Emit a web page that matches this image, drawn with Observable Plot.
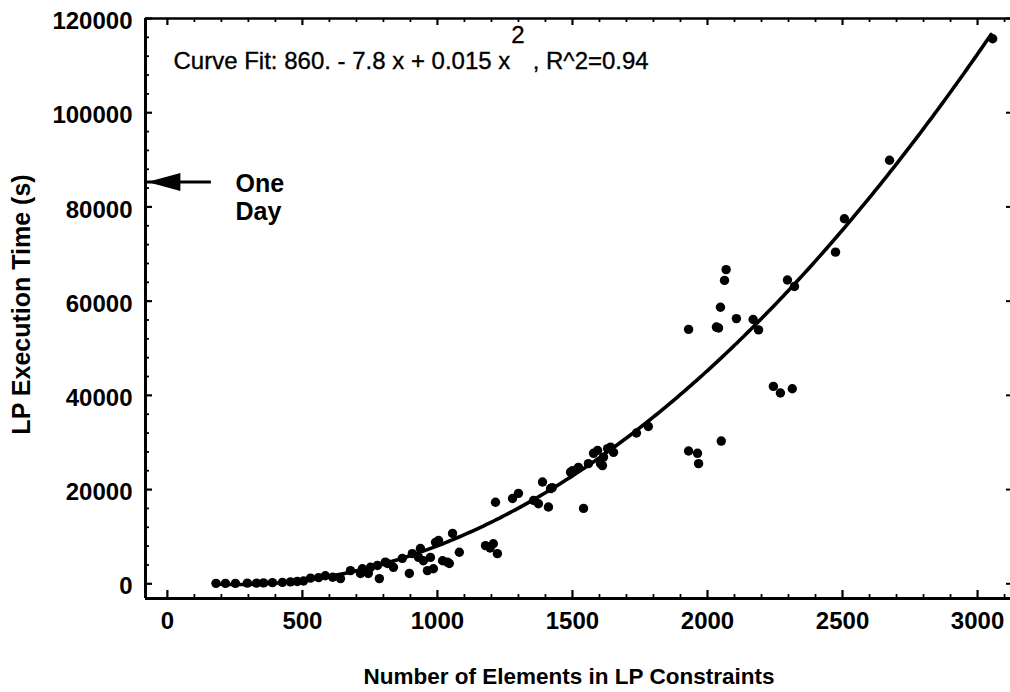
<!DOCTYPE html>
<html>
<head>
<meta charset="utf-8">
<script src="https://cdn.jsdelivr.net/npm/d3@7"></script>
<script src="https://cdn.jsdelivr.net/npm/@observablehq/plot@0.6"></script>
<style>
  body { margin: 0; background: #fff; }
</style>
</head>
<body>
<div id="chart"></div>
<script>
// Number of elements in the LP constraints for each run
const elements = [
  180, 215, 252, 296, 330, 356, 389, 426, 456, 481, 504, 530, 560, 585, 612, 641,
  678, 715, 722, 744, 752, 778, 785, 807, 815, 837, 870, 896, 907, 930, 937, 948,
  963, 974, 985, 993, 1004, 1019, 1037, 1044, 1056, 1081,
  1178, 1195, 1207, 1215, 1222, 1278, 1300, 1356, 1374, 1389, 1411, 1419, 1425,
  1493, 1500, 1522, 1541, 1559, 1578, 1593, 1604, 1611, 1615, 1630, 1641, 1652,
  1737, 1781, 1930, 1930, 1963, 1967, 2033, 2041, 2048, 2051, 2063, 2069, 2107,
  2169, 2189, 2244, 2270, 2296, 2314, 2322, 2474, 2507, 2674, 3056
];
// Measured LP execution time (seconds) for each run
const execSeconds = [
  100, 100, 100, 150, 150, 200, 250, 300, 400, 500, 600, 1200, 1300, 1700, 1400, 1100,
  2800, 2200, 3200, 2200, 3500, 3900, 1100, 4600, 4300, 3500, 5400, 2200, 6400, 5600, 7500, 4900,
  2800, 5600, 3200, 8800, 9200, 4900, 4600, 4300, 10700, 6700,
  8100, 7600, 8500, 17300, 6400, 18100, 19200, 17700, 17000, 21600, 16300, 20200, 20400,
  23700, 24000, 24700, 16000, 25500, 27700, 28300, 25500, 25100, 26900, 28700, 29000, 27900,
  32000, 33400, 54000, 28200, 27700, 25500, 54500, 54300, 58700, 30300, 64400, 66700, 56300,
  56100, 53900, 41900, 40500, 64500, 41400, 63100, 70400, 77500, 89900, 115700
];

// Quadratic fit: c0 + c1 x + c2 x^2
const fitCoefficients = [860, -7.8, 0.015];
const fitDomain = [180, 3050];
const fitText = "Curve Fit: 860. - 7.8 x + 0.015 x";
const fitExponent = "2";
const fitR2 = ", R^2=0.94";

// Axis ticks
const xTicks = [0, 500, 1000, 1500, 2000, 2500, 3000];
const xMinorTicks = [100, 200, 300, 400, 600, 700, 800, 900, 1100, 1200, 1300, 1400,
  1600, 1700, 1800, 1900, 2100, 2200, 2300, 2400, 2600, 2700, 2800, 2900, 3100];
const yTicks = [0, 20000, 40000, 60000, 80000, 100000, 120000];
const yMinorTicks = [4000, 8000, 12000, 16000, 24000, 28000, 32000, 36000, 44000, 48000,
  52000, 56000, 64000, 68000, 72000, 76000, 84000, 88000, 92000, 96000, 104000, 108000,
  112000, 116000];

// "One Day" marker
const oneDaySeconds = 85300;
const oneDayLabel = "One\nDay";

const xDomain = [-81, 3122];
const yDomain = [-3121, 120000];

const points = elements.map((x, i) => ({x, y: execSeconds[i]}));
const fitCurve = d3.range(fitDomain[0], fitDomain[1] + 1, 10).map(x => ({
  x,
  y: fitCoefficients[0] + fitCoefficients[1] * x + fitCoefficients[2] * x * x
}));

// filled arrowhead pointing left
const arrowHead = {
  draw(ctx) {
    ctx.moveTo(0, 0);
    ctx.lineTo(33, -9);
    ctx.lineTo(33, 9);
    ctx.closePath();
  }
};

const W = 1010, H = 692;
const mL = 145, mR = 0, mT = 18, mB = 94;
const innerW = W - mL - mR, innerH = H - mT - mB;
const font = "'Liberation Sans', Arial, Helvetica, sans-serif";

const svg = Plot.plot({
  width: W,
  height: H,
  marginLeft: mL,
  marginRight: mR,
  marginTop: mT,
  marginBottom: mB,
  style: {fontFamily: font, background: "white", color: "black"},
  x: {domain: xDomain, label: null},
  y: {domain: yDomain, label: null},
  marks: [
    // frame (left, top, bottom)
    Plot.ruleX([xDomain[0]], {stroke: "black", strokeWidth: 3}),
    Plot.ruleY([yDomain[0]], {stroke: "black", strokeWidth: 3}),
    Plot.ruleY([yDomain[1]], {stroke: "black", strokeWidth: 2.5}),
    // inward ticks
    Plot.ruleX(xTicks, {x: d => d, insetTop: innerH - 8, stroke: "black", strokeWidth: 2.2}),
    Plot.ruleX(xMinorTicks, {x: d => d, insetTop: innerH - 4, stroke: "black", strokeWidth: 1.8}),
    Plot.ruleX(xTicks, {x: d => d, insetBottom: innerH - 7, stroke: "black", strokeWidth: 2.2}),
    Plot.ruleX(xMinorTicks, {x: d => d, insetBottom: innerH - 4, stroke: "black", strokeWidth: 1.8}),
    Plot.ruleY(yTicks, {y: d => d, insetRight: innerW - 7, stroke: "black", strokeWidth: 2.2}),
    Plot.ruleY(yMinorTicks, {y: d => d, insetRight: innerW - 4, stroke: "black", strokeWidth: 1.8}),
    Plot.ruleY(yTicks, {y: d => d, insetLeft: innerW - 4, stroke: "black", strokeWidth: 2}),
    // tick labels
    Plot.axisX({ticks: xTicks, tickSize: 0, tickPadding: 13, tickFormat: d => String(d),
      fontSize: 24, fontWeight: "bold", label: null}),
    Plot.axisY({ticks: yTicks, tickSize: 0, tickPadding: 13, tickFormat: d => String(d),
      fontSize: 24, fontWeight: "bold", dy: 3, label: null}),
    // axis titles
    Plot.text(["Number of Elements in LP Constraints"], {frameAnchor: "bottom", dx: -9, dy: 78,
      lineAnchor: "middle", fontSize: 22.5, fontWeight: "bold", fill: "black"}),
    Plot.text(["LP Execution Time (s)"], {frameAnchor: "left", rotate: -90, dx: -124, dy: -4,
      lineAnchor: "middle", textAnchor: "middle", fontSize: 25, fontWeight: "bold", fill: "black"}),
    // fitted curve and data
    Plot.line(fitCurve, {x: "x", y: "y", stroke: "black", strokeWidth: 3.6}),
    Plot.dot(points, {x: "x", y: "y", r: 4.7, fill: "black", stroke: "none"}),
    // fit annotation
    Plot.text([fitText], {frameAnchor: "top-left", dx: 28, dy: 50, lineAnchor: "bottom",
      textAnchor: "start", fontSize: 24, fill: "black", stroke: "black", strokeWidth: 0.35}),
    // one-day marker
    Plot.ruleY([oneDaySeconds], {x1: -74, x2: 163, stroke: "black", strokeWidth: 3}),
    Plot.dot([oneDaySeconds], {x: -74, y: d => d, symbol: arrowHead, r: 5, fill: "black", stroke: "none"}),
    Plot.text([oneDayLabel], {x: 252, y: oneDaySeconds, dy: -9, lineAnchor: "top", textAnchor: "start",
      lineHeight: 1.1, fontSize: 25, fontWeight: "bold", fill: "black"})
  ]
});

// raise the exponent of the fit label above the line
d3.select(svg).selectAll("text")
  .filter(function () { return this.textContent === fitText; })
  .each(function () {
    const t = d3.select(this);
    t.append("tspan").attr("dx", 1).attr("dy", -26).text(fitExponent);
    t.append("tspan").attr("dx", 8).attr("dy", 26).text(fitR2);
  });

document.getElementById("chart").append(svg);
</script>
</body>
</html>
